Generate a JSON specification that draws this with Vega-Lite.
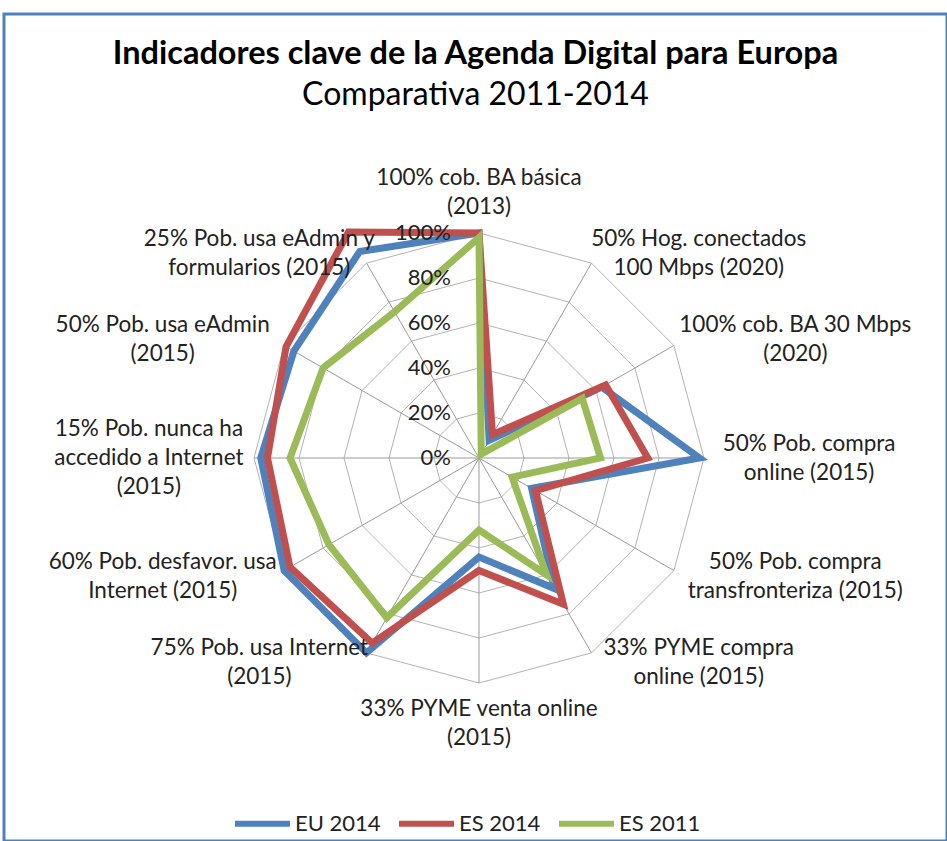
{
  "$schema": "https://vega.github.io/schema/vega-lite/v6.json",
  "width": 943,
  "height": 827,
  "autosize": {"type": "none"},
  "padding": {"left": 4, "top": 14, "right": 0, "bottom": 0},
  "background": "#ffffff",
  "config": {
    "view": {"stroke": "#4f81bd", "strokeWidth": 3, "fill": "#ffffff"},
    "font": "Lato",
    "text": {"font": "Lato"}
  },
  "title": {
    "text": "Indicadores clave de la Agenda Digital para Europa",
    "subtitle": "Comparativa 2011-2014",
    "anchor": "middle",
    "orient": "top",
    "offset": -97,
    "font": "Lato",
    "fontSize": 32.5,
    "fontWeight": "bold",
    "color": "#000000",
    "subtitleFont": "Lato",
    "subtitleFontSize": 32,
    "subtitleColor": "#000000",
    "subtitlePadding": 10
  },
  "datasets": {
    "axes": [
      {"i": 0, "label": "100% cob. BA básica\n(2013)"},
      {"i": 1, "label": "50% Hog. conectados\n100 Mbps (2020)"},
      {"i": 2, "label": "100% cob. BA 30 Mbps\n(2020)"},
      {"i": 3, "label": "50% Pob. compra\nonline (2015)"},
      {"i": 4, "label": "50% Pob. compra\ntransfronteriza (2015)"},
      {"i": 5, "label": "33% PYME compra\nonline (2015)"},
      {"i": 6, "label": "33% PYME venta online\n(2015)"},
      {"i": 7, "label": "75% Pob. usa Internet\n(2015)"},
      {"i": 8, "label": "60% Pob. desfavor. usa\nInternet (2015)"},
      {"i": 9, "label": "15% Pob. nunca ha\naccedido a Internet\n(2015)"},
      {"i": 10, "label": "50% Pob. usa eAdmin\n(2015)"},
      {"i": 11, "label": "25% Pob. usa eAdmin y\nformularios (2015)"}
    ],
    "rings": [
      {"level": 20, "i": [0, 1, 2, 3, 4, 5, 6, 7, 8, 9, 10, 11]},
      {"level": 40, "i": [0, 1, 2, 3, 4, 5, 6, 7, 8, 9, 10, 11]},
      {"level": 60, "i": [0, 1, 2, 3, 4, 5, 6, 7, 8, 9, 10, 11]},
      {"level": 80, "i": [0, 1, 2, 3, 4, 5, 6, 7, 8, 9, 10, 11]},
      {"level": 100, "i": [0, 1, 2, 3, 4, 5, 6, 7, 8, 9, 10, 11]}
    ],
    "ticks": [
      {"level": 0, "txt": "0%"},
      {"level": 20, "txt": "20%"},
      {"level": 40, "txt": "40%"},
      {"level": 60, "txt": "60%"},
      {"level": 80, "txt": "80%"},
      {"level": 100, "txt": "100%"}
    ],
    "series": [
      {"serie": "EU 2014", "i": 0, "value": 100},
      {"serie": "EU 2014", "i": 1, "value": 9},
      {"serie": "EU 2014", "i": 2, "value": 63},
      {"serie": "EU 2014", "i": 3, "value": 98},
      {"serie": "EU 2014", "i": 4, "value": 27},
      {"serie": "EU 2014", "i": 5, "value": 67},
      {"serie": "EU 2014", "i": 6, "value": 44},
      {"serie": "EU 2014", "i": 7, "value": 100},
      {"serie": "EU 2014", "i": 8, "value": 100},
      {"serie": "EU 2014", "i": 9, "value": 97},
      {"serie": "EU 2014", "i": 10, "value": 95},
      {"serie": "EU 2014", "i": 11, "value": 106},
      {"serie": "ES 2014", "i": 0, "value": 100},
      {"serie": "ES 2014", "i": 1, "value": 12},
      {"serie": "ES 2014", "i": 2, "value": 65},
      {"serie": "ES 2014", "i": 3, "value": 75},
      {"serie": "ES 2014", "i": 4, "value": 29},
      {"serie": "ES 2014", "i": 5, "value": 75},
      {"serie": "ES 2014", "i": 6, "value": 50},
      {"serie": "ES 2014", "i": 7, "value": 95},
      {"serie": "ES 2014", "i": 8, "value": 97},
      {"serie": "ES 2014", "i": 9, "value": 94},
      {"serie": "ES 2014", "i": 10, "value": 99},
      {"serie": "ES 2014", "i": 11, "value": 116},
      {"serie": "ES 2011", "i": 0, "value": 98},
      {"serie": "ES 2011", "i": 1, "value": 2},
      {"serie": "ES 2011", "i": 2, "value": 53},
      {"serie": "ES 2011", "i": 3, "value": 54},
      {"serie": "ES 2011", "i": 4, "value": 17},
      {"serie": "ES 2011", "i": 5, "value": 60},
      {"serie": "ES 2011", "i": 6, "value": 32},
      {"serie": "ES 2011", "i": 7, "value": 82},
      {"serie": "ES 2011", "i": 8, "value": 77},
      {"serie": "ES 2011", "i": 9, "value": 84},
      {"serie": "ES 2011", "i": 10, "value": 80},
      {"serie": "ES 2011", "i": 11, "value": 75}
    ]
  },
  "layer": [
    {
      "data": {"name": "rings"},
      "transform": [
        {"flatten": ["i"]},
        {"calculate": "datum.i * PI / 6", "as": "a"},
        {"calculate": "datum.level * sin(datum.a)", "as": "x"},
        {"calculate": "datum.level * cos(datum.a)", "as": "y"}
      ],
      "mark": {"type": "line", "interpolate": "linear-closed", "stroke": "#b3b3b3", "strokeWidth": 1},
      "encoding": {
        "x": {"field": "x", "type": "quantitative", "axis": null, "scale": {"domain": [-211.11, 208.0], "nice": false, "zero": false}},
        "y": {"field": "y", "type": "quantitative", "axis": null, "scale": {"domain": [-170.22, 197.33], "nice": false, "zero": false}},
        "detail": {"field": "level", "type": "nominal"},
        "order": {"field": "i", "type": "quantitative"}
      }
    },
    {
      "data": {"name": "axes"},
      "transform": [
        {"calculate": "datum.i * PI / 6", "as": "a"},
        {"calculate": "100 * sin(datum.a)", "as": "x"},
        {"calculate": "100 * cos(datum.a)", "as": "y"}
      ],
      "mark": {"type": "rule", "stroke": "#9a9a9a", "strokeWidth": 1},
      "encoding": {
        "x": {"field": "x", "type": "quantitative"},
        "y": {"field": "y", "type": "quantitative"},
        "x2": {"datum": 0},
        "y2": {"datum": 0}
      }
    },
    {
      "data": {"name": "series"},
      "transform": [
        {"calculate": "datum.i * PI / 6", "as": "a"},
        {"calculate": "datum.value * sin(datum.a)", "as": "x"},
        {"calculate": "datum.value * cos(datum.a)", "as": "y"}
      ],
      "mark": {"type": "line", "interpolate": "linear-closed", "strokeWidth": 7, "strokeJoin": "miter"},
      "encoding": {
        "x": {"field": "x", "type": "quantitative"},
        "y": {"field": "y", "type": "quantitative"},
        "order": {"field": "i", "type": "quantitative"},
        "color": {
          "field": "serie",
          "type": "nominal",
          "sort": ["EU 2014", "ES 2014", "ES 2011"],
          "scale": {"domain": ["EU 2014", "ES 2014", "ES 2011"], "range": ["#4f81bd", "#c0504d", "#9bbb59"]},
          "legend": {
            "title": null,
            "orient": "none",
            "direction": "horizontal",
            "legendX": 228,
            "legendY": 779,
            "symbolType": "stroke",
            "symbolSize": 3025,
            "symbolStrokeWidth": 6,
            "labelFontSize": 22,
            "labelFont": "Lato",
            "labelColor": "#222222",
            "labelOffset": 2,
            "columnPadding": 6
          }
        }
      }
    },
    {
      "data": {"name": "ticks"},
      "mark": {"type": "text", "align": "right", "baseline": "middle", "dx": -28, "fontSize": 22, "color": "#222222"},
      "encoding": {
        "x": {"datum": 0, "type": "quantitative"},
        "y": {"field": "level", "type": "quantitative"},
        "text": {"field": "txt"}
      }
    },
    {
      "data": {"name": "axes"},
      "transform": [
        {"calculate": "sin(datum.i * PI / 6)", "as": "s"},
        {"calculate": "cos(datum.i * PI / 6)", "as": "c"},
        {"calculate": "length(split(datum.label, '\\n'))", "as": "n"},
        {"calculate": "146.7 * (datum.s < 0 ? -1 : 1) * (1 - pow(1 - abs(datum.s), 1.58))", "as": "lx"},
        {"calculate": "104.9 * datum.c + 13.3 * (datum.c < 0 ? -1 : 1) * pow(abs(datum.c), 30) + (datum.n - 1) * 6.444", "as": "ly"}
      ],
      "mark": {"type": "text", "align": "center", "baseline": "middle", "lineBreak": "\n", "lineHeight": 29, "fontSize": 22.5, "color": "#222222"},
      "encoding": {
        "x": {"field": "lx", "type": "quantitative"},
        "y": {"field": "ly", "type": "quantitative"},
        "text": {"field": "label"}
      }
    }
  ]
}
